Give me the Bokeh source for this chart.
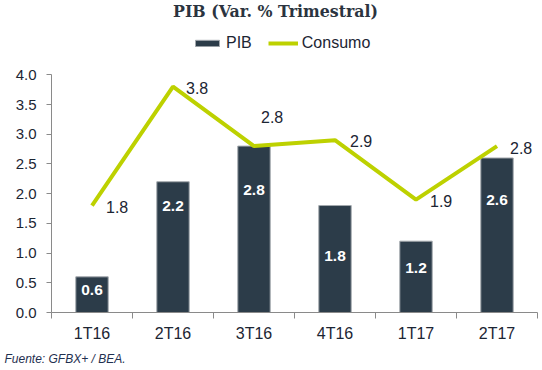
from bokeh.plotting import figure
from bokeh.models import (ColumnDataSource, Range1d, FixedTicker, NumeralTickFormatter,
                          Title, Label, Legend, LegendItem)
from bokeh.embed import file_html
from bokeh.resources import INLINE
from bokeh.core.properties import value

categories = ["1T16", "2T16", "3T16", "4T16", "1T17", "2T17"]
pib = [0.6, 2.2, 2.8, 1.8, 1.2, 2.6]
consumo = [1.8, 3.8, 2.8, 2.9, 1.9, 2.8]
y_ticks = [0.0, 0.5, 1.0, 1.5, 2.0, 2.5, 3.0, 3.5, 4.0]

# label placement (style, screen pixels)
pib_label_dy = [13, 24, 44, 50, 27, 42]
cons_label_dx = [14, 13, 7, 15, 14, 13]
cons_label_dy = [1, 1, -29, 1, 1, 2]

BAR = "#2C3C49"
GREEN = "#BDD100"
TXT = "#1C2533"
AXIS = "#8A8A8A"
FONT = "Liberation Sans"

xs = [i + 0.5 for i in range(len(categories))]
src = ColumnDataSource(dict(
    x=xs, pib=pib, consumo=consumo,
    pib_txt=[f"{v:.1f}" for v in pib],
    cons_txt=[f"{v:.1f}" for v in consumo],
    pdy=pib_label_dy, cdx=cons_label_dx, cdy=cons_label_dy,
))

# frame extends above the value axis to host title + legend (4.0 sits 75px below top)
p = figure(width=542, height=370, output_backend="svg", toolbar_location=None,
           x_range=Range1d(0, len(categories)), y_range=Range1d(0, 5.25),
           min_border_left=51, min_border_right=5, min_border_top=0, min_border_bottom=55)
p.outline_line_color = None
p.xgrid.visible = False
p.ygrid.visible = False
p.background_fill_color = "white"

bars = p.vbar(x="x", top="pib", width=0.4, source=src, fill_color=BAR,
              line_color="#A3A8AD", line_width=1)
line = p.line(x="x", y="consumo", source=src, line_color=GREEN, line_width=4)

p.text(x="x", y="pib", text="pib_txt", source=src, y_offset="pdy",
       text_align="center", text_baseline="middle", text_color="white",
       text_font=value(FONT), text_font_style="bold", text_font_size="15.5px")
p.text(x="x", y="consumo", text="cons_txt", source=src, x_offset="cdx", y_offset="cdy",
       text_align="left", text_baseline="middle", text_color=TXT,
       text_font=value(FONT), text_font_size="16px")

# axes
xa = p.xaxis[0]
xa.ticker = FixedTicker(ticks=xs, minor_ticks=list(range(len(categories) + 1)))
xa.major_label_overrides = {x: c for x, c in zip(xs, categories)}
xa.major_tick_in = 0
xa.major_tick_out = 0
xa.minor_tick_in = 0
xa.minor_tick_out = 6
xa.minor_tick_line_color = AXIS
xa.axis_line_color = AXIS
xa.major_label_standoff = 6
xa.major_label_text_font = FONT
xa.major_label_text_font_size = "16px"
xa.major_label_text_color = TXT

ya = p.yaxis[0]
ya.ticker = FixedTicker(ticks=y_ticks, minor_ticks=[])
ya.bounds = (y_ticks[0], y_ticks[-1])
ya.formatter = NumeralTickFormatter(format="0.0")
ya.major_tick_in = 0
ya.major_tick_out = 5
ya.major_tick_line_color = AXIS
ya.axis_line_color = AXIS
ya.minor_tick_line_color = None
ya.major_label_standoff = 10
ya.major_label_text_font = FONT
ya.major_label_text_font_size = "15px"
ya.major_label_text_color = TXT

legend = Legend(items=[LegendItem(label="PIB", renderers=[bars]),
                       LegendItem(label="Consumo", renderers=[line])],
                location=(141, 260), orientation="horizontal",
                glyph_width=30, glyph_height=8, label_standoff=4, spacing=16,
                padding=0, margin=0, border_line_color=None, background_fill_alpha=0,
                label_text_font=FONT, label_text_font_size="16px", label_text_color=TXT)
p.add_layout(legend, "center")

p.add_layout(Label(x=224, y=301, x_units="screen", y_units="screen",
                   text="PIB (Var. % Trimestral)", text_align="center", text_baseline="middle",
                   text_font="DejaVu Serif", text_font_style="bold", text_font_size="15.8px",
                   text_color="#2B3440"))

p.add_layout(Title(text="Fuente: GFBX+ / BEA.", align="left", offset=-47,
                   text_font=FONT, text_font_style="italic", text_font_size="12px",
                   text_color="#1F3050"), "below")

open("out.html", "w").write(file_html(p, INLINE))
